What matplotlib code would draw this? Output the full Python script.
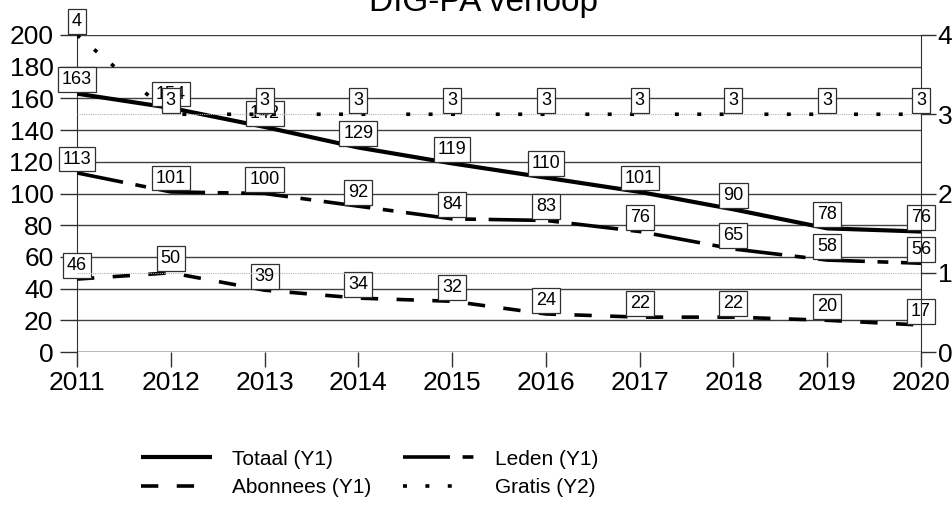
import matplotlib
matplotlib.use("Agg")
import matplotlib.pyplot as plt

plt.rcParams['font.family'] = ['Liberation Sans', 'DejaVu Sans']

# data
years = [2011, 2012, 2013, 2014, 2015, 2016, 2017, 2018, 2019, 2020]
totaal = [163, 154, 142, 129, 119, 110, 101, 90, 78, 76]
leden = [113, 101, 100, 92, 84, 83, 76, 65, 58, 56]
abonnees = [46, 50, 39, 34, 32, 24, 22, 22, 20, 17]
gratis = [4, 3, 3, 3, 3, 3, 3, 3, 3, 3]

y1_ticks = list(range(0, 201, 20))
y2_ticks = [0, 1, 2, 3, 4]

fig = plt.figure(figsize=(9.53, 5.05), dpi=100)
ax = fig.add_axes([77 / 953, 1 - 352 / 505, (921 - 77) / 953, (352 - 35) / 505])
ax2 = ax.twinx()

ax.set_xlim(2011, 2020)
ax.set_ylim(0, 200)
ax2.set_ylim(0, 4)

# gridlines
for v in y1_ticks:
    ax.axhline(v, color='#404040', lw=1.0, zorder=1)
for v in [1, 3]:
    ax2.axhline(v, color='#b0b0b0', lw=0.8, ls=(0, (1, 1)), zorder=1)

lw = 2.6
l1, = ax.plot(years, totaal, color='black', lw=3.0, solid_capstyle='butt', label='Totaal (Y1)', zorder=3)
l2, = ax.plot(years, leden, color='black', lw=lw, ls=(0, (13, 3.5, 3, 3.5)), dash_capstyle='butt', label='Leden (Y1)', zorder=3)
l3, = ax.plot(years, abonnees, color='black', lw=lw, ls=(0, (4.8, 5.1)), dash_capstyle='butt', label='Abonnees (Y1)', zorder=3)
l4, = ax2.plot(years, gratis, color='black', lw=lw, ls=(0, (1.1, 5.1, 1.1, 5.1, 1.1, 11.3)), dash_capstyle='butt', label='Gratis (Y2)', zorder=3)

box = dict(boxstyle='square,pad=0.22', fc='white', ec='#303030', lw=0.9)
for series, axis in [(totaal, ax), (leden, ax), (abonnees, ax), (gratis, ax2)]:
    for x, y in zip(years, series):
        axis.annotate(str(y), (x, y), xytext=(0, 10), textcoords='offset points',
                      ha='center', va='center', fontsize=13, bbox=box, zorder=5,
                      annotation_clip=False)

for a in (ax, ax2):
    for s in a.spines.values():
        s.set_visible(False)
ax.spines['left'].set_visible(True)
ax2.spines['right'].set_visible(True)
ax.spines['left'].set_color('#303030')
ax2.spines['right'].set_color('#303030')

ax.set_xticks(years)
ax.set_yticks(y1_ticks)
ax2.set_yticks(y2_ticks)
ax.tick_params(axis='x', length=11, width=1, color='#303030', labelsize=19, pad=3)
ax.tick_params(axis='y', length=12, width=1, color='#303030', labelsize=19, pad=5)
ax2.tick_params(axis='y', length=11, width=1, color='#303030', labelsize=19, pad=1)
ax.axhline(0, color='#303030', lw=1.0, zorder=2)

fig.text(484 / 953, 1 - 11 / 505, 'DIG-PA verloop', ha='center', va='baseline', fontsize=24)

fig.legend(handles=[l1, l3, l2, l4], ncol=2, loc='upper left',
           bbox_to_anchor=(122 / 953, 1 - 431 / 505), frameon=False,
           fontsize=15, handlelength=3.4, handletextpad=1.0, columnspacing=1.5,
           labelspacing=0.45)

fig.savefig('out.png', dpi=100)
